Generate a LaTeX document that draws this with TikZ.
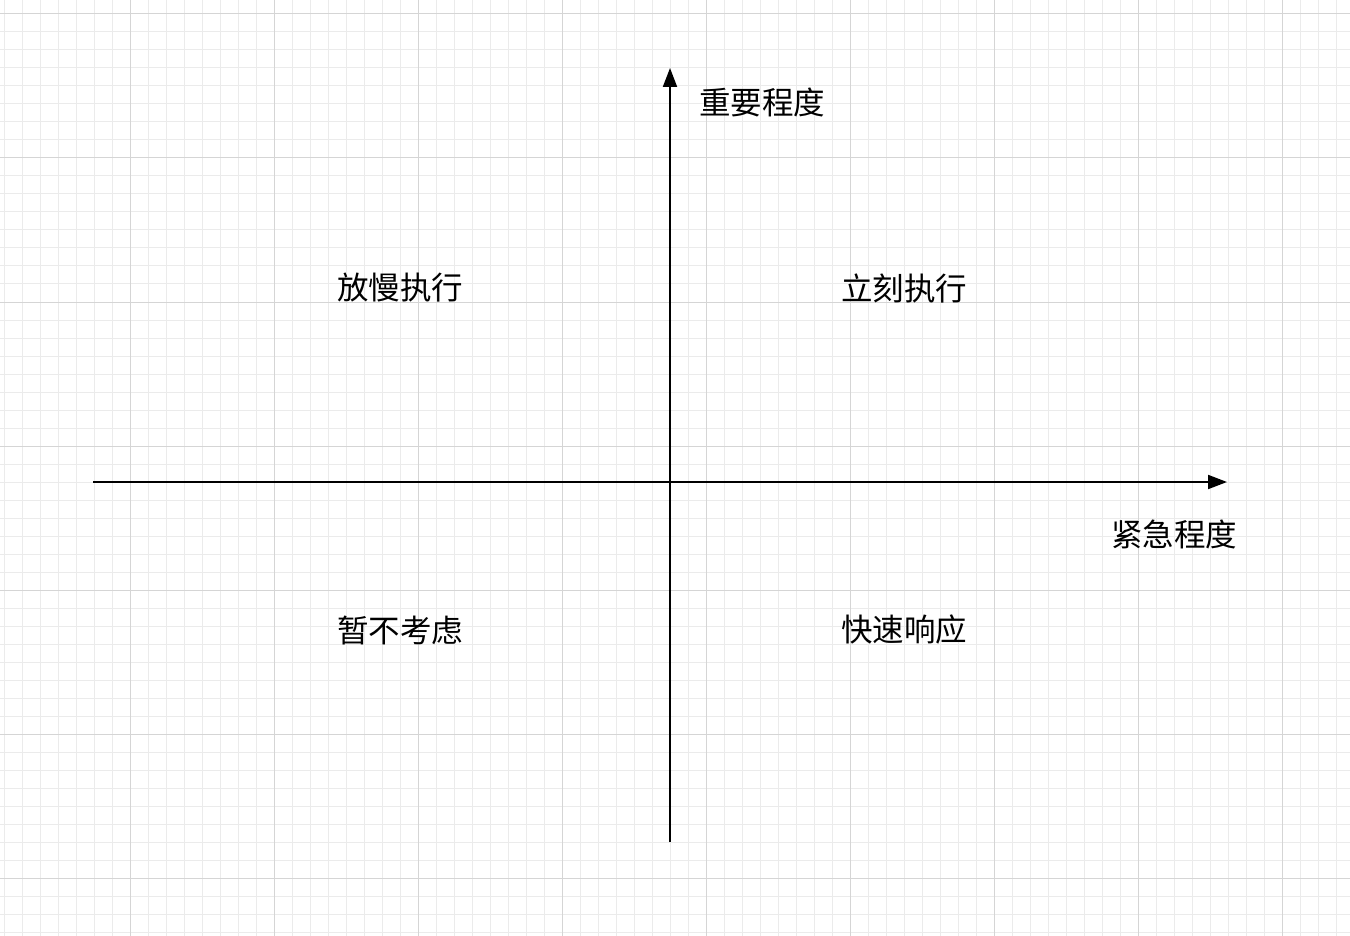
\documentclass[tikz,border=0pt]{standalone}
\usepackage{fontspec}
\setmainfont{Noto Sans CJK SC}
\usetikzlibrary{arrows.meta}
\newlength{\du}
\setlength{\du}{1pt}
\definecolor{minorgrid}{rgb}{0.922, 0.922, 0.922}
\definecolor{majorgrid}{rgb}{0.835, 0.835, 0.835}
\tikzset{
  axis/.style={line width=2\du, draw=black, -{Triangle[length=19pt,width=14pt]}},
  quadlabel/.style={inner sep=0pt, font=\fontsize{31.5\du}{34\du}\selectfont}
}
\begin{document}
\begin{tikzpicture}
\pgftransformxscale{1.000000}
\pgftransformyscale{-1.000000}
\useasboundingbox (0\du,0\du) rectangle (1350\du,936\du);
\fill[white] (0\du,0\du) rectangle (1350\du,936\du);
% grid
\foreach \k [evaluate=\k as \gx using 4+18*\k] in {0,...,74}
  \draw[minorgrid, line width=1\du] (\gx\du,0\du)--(\gx\du,936\du);
\foreach \k [evaluate=\k as \gy using 14+18*\k] in {0,...,51}
  \draw[minorgrid, line width=1\du] (0\du,\gy\du)--(1350\du,\gy\du);
\foreach \k [evaluate=\k as \gx using 130+144*\k] in {0,...,8}
  \draw[majorgrid, line width=1\du] (\gx\du,0\du)--(\gx\du,936\du);
\foreach \k [evaluate=\k as \gy using 14+144*\k] in {0,...,6}
  \draw[majorgrid, line width=1\du] (0\du,\gy\du)--(1350\du,\gy\du);
% axes
\coordinate (xstart) at (93\du,482\du);
\coordinate (xend) at (1227\du,482\du);
\coordinate (ystart) at (670\du,842\du);
\coordinate (yend) at (670\du,68\du);
\draw[axis] (xstart)--(xend);
\draw[axis] (ystart)--(yend);
% labels
\node[quadlabel] (importance) at (762\du,102\du){重要程度};
\node[quadlabel] (urgency) at (1174\du,534\du){紧急程度};
\node[quadlabel] (slow) at (400\du,288\du){放慢执行};
\node[quadlabel] (now) at (904\du,288\du){立刻执行};
\node[quadlabel] (skip) at (400\du,630\du){暂不考虑};
\node[quadlabel] (quick) at (904\du,630\du){快速响应};
\end{tikzpicture}
\end{document}
